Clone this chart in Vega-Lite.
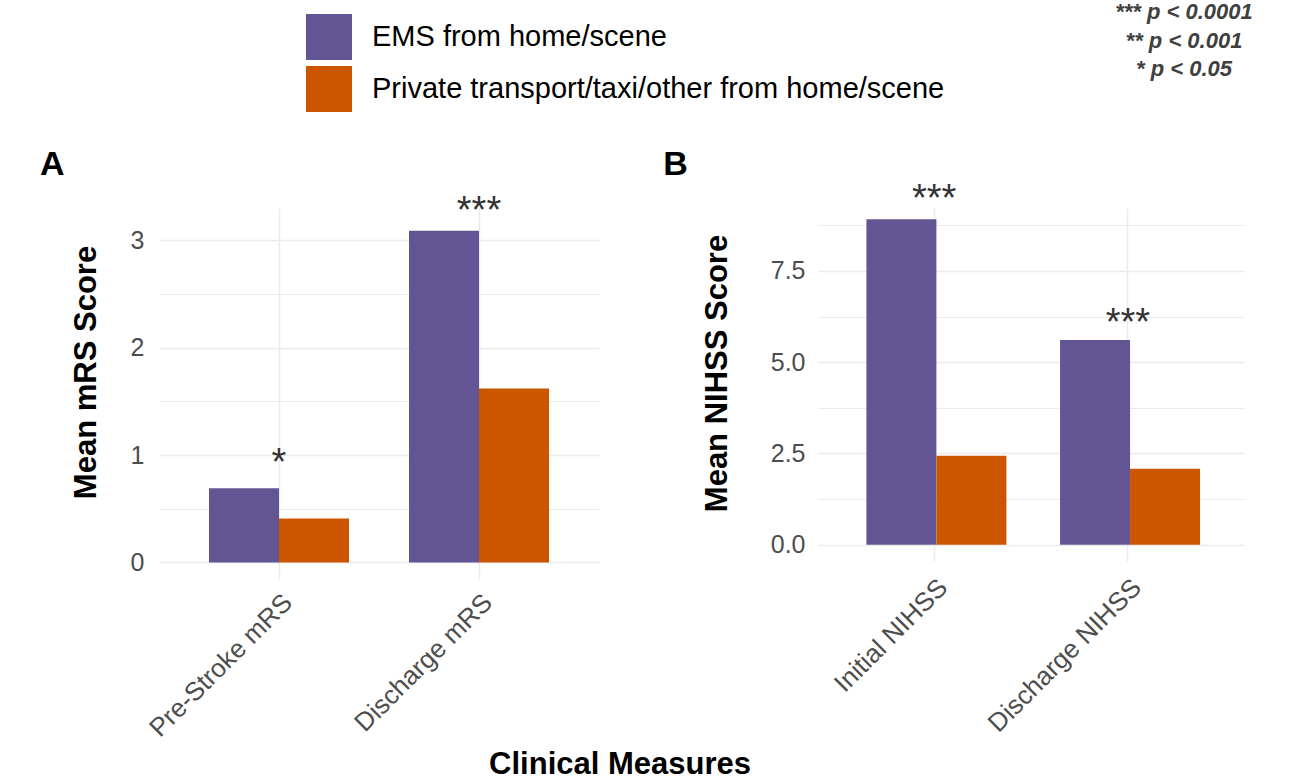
{
  "$schema": "https://vega.github.io/schema/vega-lite/v6.json",
  "padding": {"left": 40, "top": 1, "right": 5, "bottom": 5},
  "background": "white",
  "datasets": {
    "bars": [
      {"panel": "A", "measure": "Pre-Stroke mRS", "group": "EMS from home/scene", "value": 0.69},
      {"panel": "A", "measure": "Pre-Stroke mRS", "group": "Private transport/taxi/other from home/scene", "value": 0.41},
      {"panel": "A", "measure": "Discharge mRS", "group": "EMS from home/scene", "value": 3.09},
      {"panel": "A", "measure": "Discharge mRS", "group": "Private transport/taxi/other from home/scene", "value": 1.62},
      {"panel": "B", "measure": "Initial NIHSS", "group": "EMS from home/scene", "value": 8.92},
      {"panel": "B", "measure": "Initial NIHSS", "group": "Private transport/taxi/other from home/scene", "value": 2.44},
      {"panel": "B", "measure": "Discharge NIHSS", "group": "EMS from home/scene", "value": 5.61},
      {"panel": "B", "measure": "Discharge NIHSS", "group": "Private transport/taxi/other from home/scene", "value": 2.08}
    ],
    "stars": [
      {"panel": "A", "measure": "Pre-Stroke mRS", "label": "*", "value": 0.81},
      {"panel": "A", "measure": "Discharge mRS", "label": "***", "value": 3.16},
      {"panel": "B", "measure": "Initial NIHSS", "label": "***", "value": 9.14},
      {"panel": "B", "measure": "Discharge NIHSS", "label": "***", "value": 5.75}
    ]
  },
  "title": {
    "text": ["*** p < 0.0001", "** p < 0.001", "* p < 0.05"],
    "anchor": "end",
    "align": "center",
    "dx": -60,
    "offset": -67,
    "fontSize": 22,
    "lineHeight": 28.5,
    "fontStyle": "italic",
    "fontWeight": "bold",
    "color": "#404040",
    "font": "Liberation Sans"
  },
  "vconcat": [
    {
      "title": {
        "text": "Clinical Measures",
        "orient": "bottom",
        "anchor": "middle",
        "dx": -22,
        "offset": 9,
        "fontSize": 31,
        "fontWeight": "bold",
        "color": "black",
        "font": "Liberation Sans"
      },
      "spacing": 64,
      "hconcat": [
        {
          "width": 440,
          "height": 371,
          "title": {"text": "A", "anchor": "start", "fontSize": 34, "fontWeight": "bold", "color": "black", "font": "Liberation Sans", "dx": -30, "offset": 11},
          "layer": [
            {
              "data": {"name": "bars"},
              "transform": [{"filter": "datum.panel === 'A'"}],
              "mark": {"type": "bar"},
              "encoding": {
                "x": {
                  "field": "measure", "type": "nominal", "sort": ["Pre-Stroke mRS", "Discharge mRS"],
                  "scale": {"paddingInner": 0.3, "paddingOuter": 0.25},
                  "axis": {"title": null, "labelAngle": -45, "labelFontSize": 26, "labelColor": "#4D4D4D", "labelPadding": 10, "labelLimit": 400, "ticks": false, "domain": false, "grid": true, "gridColor": "#EBEBEB", "gridWidth": 1.5, "bandPosition": 0.5}
                },
                "xOffset": {"field": "group", "type": "nominal", "sort": ["EMS from home/scene", "Private transport/taxi/other from home/scene"]},
                "y": {
                  "field": "value", "type": "quantitative",
                  "scale": {"domain": [-0.1545, 3.302], "nice": false, "zero": false},
                  "axis": {
                    "title": "Mean mRS Score", "titleFontSize": 31, "titleFontWeight": "bold", "titleColor": "black", "titlePadding": 28, "titleY": 164,
                    "values": [0, 0.5, 1, 1.5, 2, 2.5, 3],
                    "labelExpr": "datum.value % 1 === 0 ? format(datum.value, 'd') : ''",
                    "labelFontSize": 25, "labelColor": "#4D4D4D", "labelPadding": 15,
                    "ticks": false, "domain": false, "grid": true, "gridColor": "#EBEBEB",
                    "gridWidth": {"condition": {"test": "datum.value % 1 === 0", "value": 1.5}, "value": 1}
                  }
                },
                "y2": {"datum": 0},
                "color": {
                  "field": "group", "type": "nominal",
                  "scale": {"domain": ["EMS from home/scene", "Private transport/taxi/other from home/scene"], "range": ["#635594", "#CC5500"]},
                  "legend": {"title": null, "orient": "none", "legendX": 147, "legendY": -194, "direction": "vertical", "symbolType": "square", "symbolSize": 2116, "symbolStrokeWidth": 0, "symbolOpacity": 1, "labelFontSize": 29, "labelColor": "black", "labelOffset": 20, "rowPadding": 6, "labelLimit": 800}
                }
              }
            },
            {
              "data": {"name": "stars"},
              "transform": [{"filter": "datum.panel === 'A'"}],
              "mark": {"type": "text", "fontSize": 38, "color": "#333333", "baseline": "alphabetic"},
              "encoding": {
                "x": {"field": "measure", "type": "nominal", "sort": ["Pre-Stroke mRS", "Discharge mRS"]},
                "y": {"field": "value", "type": "quantitative"},
                "text": {"field": "label"}
              }
            }
          ]
        },
        {
          "width": 426,
          "height": 353,
          "title": {"text": "B", "anchor": "start", "fontSize": 34, "fontWeight": "bold", "color": "black", "font": "Liberation Sans", "dx": -38, "offset": -1},
          "layer": [
            {
              "data": {"name": "bars"},
              "transform": [{"filter": "datum.panel === 'B'"}],
              "mark": {"type": "bar"},
              "encoding": {
                "x": {
                  "field": "measure", "type": "nominal", "sort": ["Initial NIHSS", "Discharge NIHSS"],
                  "scale": {"paddingInner": 0.3, "paddingOuter": 0.25},
                  "axis": {"title": null, "labelAngle": -45, "labelFontSize": 26, "labelColor": "#4D4D4D", "labelPadding": 13, "labelLimit": 400, "ticks": false, "domain": false, "grid": true, "gridColor": "#EBEBEB", "gridWidth": 1.5, "bandPosition": 0.5}
                },
                "xOffset": {"field": "group", "type": "nominal", "sort": ["EMS from home/scene", "Private transport/taxi/other from home/scene"]},
                "y": {
                  "field": "value", "type": "quantitative",
                  "scale": {"domain": [-0.446, 9.225], "nice": false, "zero": false},
                  "axis": {
                    "title": "Mean NIHSS Score", "titleFontSize": 31, "titleFontWeight": "bold", "titleColor": "black", "titlePadding": 37, "titleY": 165,
                    "values": [0, 1.25, 2.5, 3.75, 5, 6.25, 7.5, 8.75],
                    "labelExpr": "datum.value % 2.5 === 0 ? format(datum.value, '.1f') : ''",
                    "labelFontSize": 25, "labelColor": "#4D4D4D", "labelPadding": 13,
                    "ticks": false, "domain": false, "grid": true, "gridColor": "#EBEBEB",
                    "gridWidth": {"condition": {"test": "datum.value % 2.5 === 0", "value": 1.5}, "value": 1}
                  }
                },
                "y2": {"datum": 0},
                "color": {
                  "field": "group", "type": "nominal",
                  "scale": {"domain": ["EMS from home/scene", "Private transport/taxi/other from home/scene"], "range": ["#635594", "#CC5500"]}
                }
              }
            },
            {
              "data": {"name": "stars"},
              "transform": [{"filter": "datum.panel === 'B'"}],
              "mark": {"type": "text", "fontSize": 38, "color": "#333333", "baseline": "alphabetic"},
              "encoding": {
                "x": {"field": "measure", "type": "nominal", "sort": ["Initial NIHSS", "Discharge NIHSS"]},
                "y": {"field": "value", "type": "quantitative"},
                "text": {"field": "label"}
              }
            }
          ]
        }
      ]
    }
  ],
  "config": {
    "font": "Liberation Sans",
    "view": {"stroke": null},
    "axis": {"labelFont": "Liberation Sans", "titleFont": "Liberation Sans"},
    "legend": {"labelFont": "Liberation Sans"}
  }
}
